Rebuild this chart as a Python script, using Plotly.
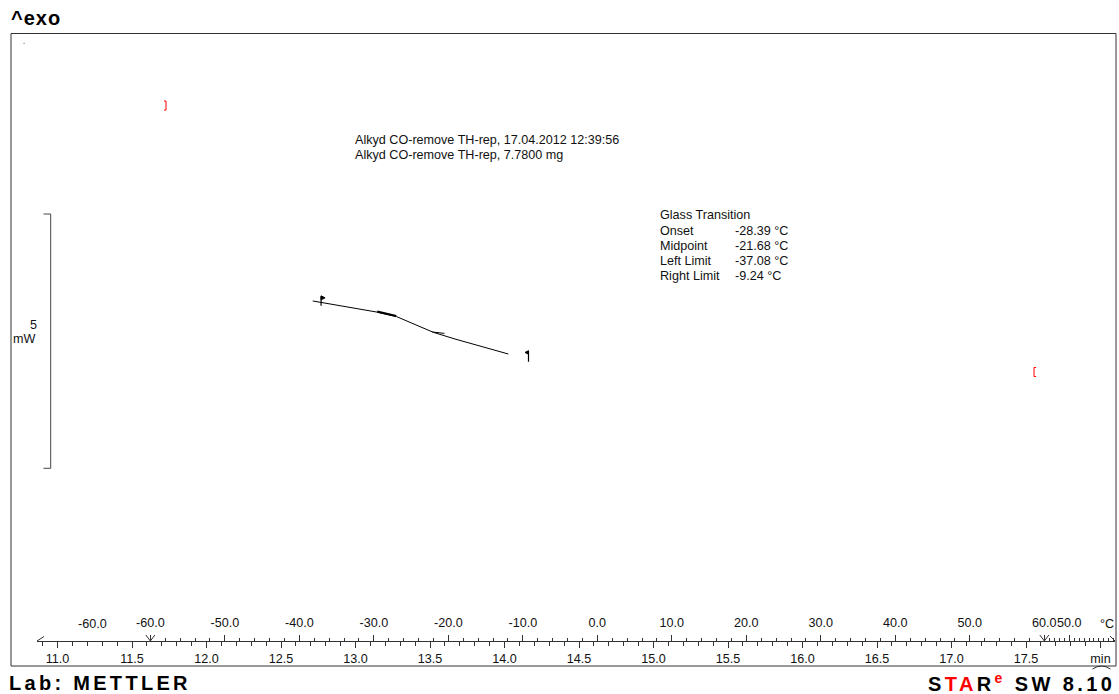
import plotly.graph_objects as go

W, H = 1119, 694

# ---------------- data ----------------
curve_time = [12.713, 12.784, 12.930, 13.044, 13.153, 13.277, 13.399, 13.522, 13.668, 13.836, 14.026]
curve_heat = [-3.000, -3.034, -3.105, -3.162, -3.223, -3.309, -3.463, -3.616, -3.748, -3.889, -4.043]

onset_mark_time = [13.146, 13.273]
onset_mark_heat = [-3.208, -3.296]
mid_mark_time = [13.516, 13.597]
mid_mark_heat = [-3.610, -3.637]

time_ticks = [11.0, 11.5, 12.0, 12.5, 13.0, 13.5, 14.0, 14.5, 15.0, 15.5, 16.0, 16.5, 17.0, 17.5, 18.0]
time_tick_labels = ["11.0", "11.5", "12.0", "12.5", "13.0", "13.5", "14.0", "14.5",
                    "15.0", "15.5", "16.0", "16.5", "17.0", "17.5", "min"]

# temperature program (°C, min)
T_start, T_end = -60.0, 60.0
t_heat_start = 11.623
heat_rate = 20.0
cool_rate = 60.0
iso_label_time = 11.235
heat_temp_labels = [-60, -50, -40, -30, -20, -10, 0, 10, 20, 30, 40, 50, 60]
cool_temp_labels = [50]
cool_temp_min = 32

gt_title = "Glass Transition"
gt_labels = ["Onset", "Midpoint", "Left Limit", "Right Limit"]
gt_values = [-28.39, -21.68, -37.08, -9.24]

info_lines = ["Alkyd CO-remove TH-rep, 17.04.2012 12:39:56",
              "Alkyd CO-remove TH-rep, 7.7800 mg"]

scale_bar_mw = 5
scale_bar_bottom = -6.29

# ---------------- scales ----------------
PX_PER_MIN = 149.0
X_11 = 57.5
def t_of_px(px):
    return 11.0 + (px - X_11) / PX_PER_MIN

PX_PER_MW = 50.86
Y_ZERO = 148.4  # page pixel of 0 mW
y_range = [(Y_ZERO - H) / PX_PER_MW, Y_ZERO / PX_PER_MW]

ax_left, ax_right = 37, 1115
x_range = [t_of_px(ax_left), t_of_px(ax_right)]
AXIS_Y = 641

def heat_time(T):
    return t_heat_start + (T - T_start) / heat_rate
t_heat_end = heat_time(T_end)
def cool_time(T):
    return t_heat_end + (T_end - T) / cool_rate

def px(x):
    return x / W
def py(y):
    return 1 - y / H

def fmt(v):
    return f"{v:.1f}"

temp_tick_times = [heat_time(T) for T in heat_temp_labels] + [cool_time(T) for T in cool_temp_labels]
temp_tick_texts = [fmt(T) for T in heat_temp_labels] + [fmt(T) for T in cool_temp_labels]
temp_minor = [heat_time(T) for T in range(-58, 60, 2) if T % 10 != 0]
temp_minor += [cool_time(T) for T in range(58, cool_temp_min - 1, -2) if T != 50]

def interp(t, xs, ys):
    if t <= xs[0]:
        return ys[0]
    if t >= xs[-1]:
        return ys[-1]
    for i in range(len(xs) - 1):
        if xs[i] <= t <= xs[i + 1]:
            f = (t - xs[i]) / (xs[i + 1] - xs[i])
            return ys[i] + f * (ys[i + 1] - ys[i])

FONT = "Liberation Sans, Arial, sans-serif"
small = dict(family=FONT, size=12.6, color="#111")

fig = go.Figure()
fig.add_trace(go.Scatter(x=curve_time, y=curve_heat, mode="lines",
                         line=dict(color="black", width=1), hoverinfo="skip"))
fig.add_trace(go.Scatter(x=onset_mark_time, y=onset_mark_heat, mode="lines",
                         line=dict(color="black", width=2.2), hoverinfo="skip"))
fig.add_trace(go.Scatter(x=mid_mark_time, y=mid_mark_heat, mode="lines",
                         line=dict(color="black", width=1), hoverinfo="skip"))
fig.add_trace(go.Scatter(x=x_range, y=[0, 0], xaxis="x2", mode="lines",
                         line=dict(width=0), opacity=0, hoverinfo="skip"))

shapes = []
# frame
shapes.append(dict(type="rect", xref="paper", yref="paper", x0=px(11), x1=px(1116),
                   y0=py(666), y1=py(33.5), line=dict(color="#333", width=1)))
# scale bar
sb_x = px(50.7)
shapes.append(dict(type="line", xref="paper", yref="y", x0=sb_x, x1=sb_x,
                   y0=scale_bar_bottom, y1=scale_bar_bottom + scale_bar_mw,
                   line=dict(color="#444", width=1)))
for yy in (scale_bar_bottom, scale_bar_bottom + scale_bar_mw):
    shapes.append(dict(type="line", xref="paper", yref="y", x0=px(43.5), x1=sb_x,
                       y0=yy, y1=yy, line=dict(color="#444", width=1)))
# flags at limits
left_t = heat_time(gt_values[2])
right_t = heat_time(gt_values[3])
left_h = interp(left_t, curve_time, curve_heat)
right_h = interp(right_t, curve_time, curve_heat)
for t, h, pole, flag in [
    (left_t, left_h, "M 0,-3.5 L 0,6", "M 0,6.5 L 4,4.5 L 0,2.5 Z"),
    (right_t, right_h, "M 0,3.3 L 0,-7.7", "M 0,3.3 L -3.5,1.6 L 0,-0.2 Z"),
]:
    shapes.append(dict(type="path", xref="x", yref="y", xsizemode="pixel", ysizemode="pixel",
                       xanchor=t, yanchor=h, path=pole, line=dict(color="black", width=1.2)))
    shapes.append(dict(type="path", xref="x", yref="y", xsizemode="pixel", ysizemode="pixel",
                       xanchor=t, yanchor=h, path=flag, fillcolor="black",
                       line=dict(color="black", width=1)))
# segment markers (V) at heating start / end
for t in (t_heat_start, t_heat_end):
    shapes.append(dict(type="path", xref="x", yref="paper", xsizemode="pixel", ysizemode="pixel",
                       xanchor=t, yanchor=py(AXIS_Y), path="M -4.5,6 L 0,0 L 4.5,6",
                       line=dict(color="#333", width=1)))
# axis ends
shapes.append(dict(type="path", xref="paper", yref="paper", xsizemode="pixel", ysizemode="pixel",
                   xanchor=px(ax_left), yanchor=py(AXIS_Y), path="M 0,0 L 7,4.5",
                   line=dict(color="#333", width=1)))
shapes.append(dict(type="path", xref="paper", yref="paper", xsizemode="pixel", ysizemode="pixel",
                   xanchor=px(ax_right), yanchor=py(AXIS_Y), path="M 0,0 L -5,5",
                   line=dict(color="#333", width=1)))
# arc bottom right
shapes.append(dict(type="path", xref="paper", yref="paper", xsizemode="pixel", ysizemode="pixel",
                   xanchor=px(1101.5), yanchor=py(666), path="M -9,-3 Q 0,3 9,-3",
                   line=dict(color="#333", width=1)))
# red range brackets
shapes.append(dict(type="path", xref="paper", yref="paper", xsizemode="pixel", ysizemode="pixel",
                   xanchor=px(166), yanchor=py(105.5), path="M -2,4.5 L 0,4.5 L 0,-4.5 L -2,-4.5",
                   line=dict(color="red", width=1)))
shapes.append(dict(type="path", xref="paper", yref="paper", xsizemode="pixel", ysizemode="pixel",
                   xanchor=px(1034), yanchor=py(372), path="M 2,4.5 L 0,4.5 L 0,-4.5 L 2,-4.5",
                   line=dict(color="red", width=1)))
# tiny grey dot
shapes.append(dict(type="rect", xref="paper", yref="paper", x0=px(23.5), x1=px(24.7),
                   y0=py(44), y1=py(42.8), line=dict(width=0), fillcolor="#888"))

ann = []
def text(x, y, s, xanchor="left", font=small, xref="paper", align="left"):
    ann.append(dict(x=x, y=y, xref=xref, yref="paper", text=s, showarrow=False,
                    xanchor=xanchor, yanchor="middle", font=font, align=align))

big = dict(family=FONT, size=20, color="black", weight="bold")
text(px(9), py(18), "^exo", font=big)
text(px(7), py(683), "Lab: METTLER", font=big)
text(px(926), py(682), 'S<span style="color:#ff0000">TA</span>R<sup><span style="color:#ff0000">e</span></sup> SW 8.10', font=big)

for i, line in enumerate(info_lines):
    text(px(352.5), py(140 + 15 * i), line)
text(px(658), py(215.5), gt_title)
for i, (lab, val) in enumerate(zip(gt_labels, gt_values)):
    text(px(658), py(230.7 + 15 * i), lab)
    text(px(733), py(230.7 + 15 * i), f"{val:.2f} °C")

text(px(38.5), py(325), str(scale_bar_mw), xanchor="right")
text(px(37), py(338.5), "mW", xanchor="right")

text(iso_label_time, py(623.5), fmt(T_start), xanchor="center", xref="x")
text(px(1107), py(623.5), "°C", xanchor="center")

fig.update_layout(
    width=W, height=H, margin=dict(l=0, r=0, t=0, b=0, pad=0),
    paper_bgcolor="white", plot_bgcolor="white", showlegend=False,
    shapes=shapes, annotations=ann,
    xaxis=dict(domain=[px(ax_left), px(ax_right)], range=x_range, anchor="free",
               position=py(AXIS_Y), side="bottom", showline=True, linecolor="#333", linewidth=1,
               ticks="outside", ticklen=6, tickwidth=1, tickcolor="#333",
               tickmode="array", tickvals=time_ticks, ticktext=time_tick_labels,
               tickfont=small, ticklabelstandoff=0, tickangle=0,
               minor=dict(ticks="outside", ticklen=4, tickwidth=1, tickcolor="#333",
                          tickmode="linear", tick0=11.0, dtick=0.1, showgrid=False),
               showgrid=False, zeroline=False, fixedrange=True),
    xaxis2=dict(overlaying="x", range=x_range, anchor="free", position=py(AXIS_Y), side="top",
                showline=False, ticks="outside", ticklen=6, tickwidth=1, tickcolor="#333",
                tickmode="array", tickvals=temp_tick_times, ticktext=temp_tick_texts,
                tickfont=small, ticklabelstandoff=3, tickangle=0,
                minor=dict(ticks="outside", ticklen=3, tickwidth=1, tickcolor="#333",
                           tickmode="array", tickvals=temp_minor, showgrid=False),
                showgrid=False, zeroline=False, fixedrange=True),
    yaxis=dict(domain=[0, 1], range=y_range, visible=False, fixedrange=True),
)

post = """
(function(){
  document.body.style.margin='0';
  document.body.style.overflow='hidden';
  function sp(){
    var gd=document.getElementById('{plot_id}');
    if(!gd) return;
    gd.querySelectorAll('text.annotation-text').forEach(function(t){
      var s=t.textContent;
      if(s.indexOf('METTLER')>=0){t.setAttribute('letter-spacing','3.3px');}
      else if(s.indexOf('SW 8.10')>=0){t.setAttribute('letter-spacing','3.4px');}
      else if(s.indexOf('exo')>=0){t.setAttribute('letter-spacing','1px');}
    });
  }
  sp(); setTimeout(sp,30); setTimeout(sp,300);
  var g=document.getElementById('{plot_id}'); if(g&&g.on){g.on('plotly_afterplot',sp);}
})();
"""
fig.write_html("out.html", post_script=post, config={"displayModeBar": False, "staticPlot": True})
